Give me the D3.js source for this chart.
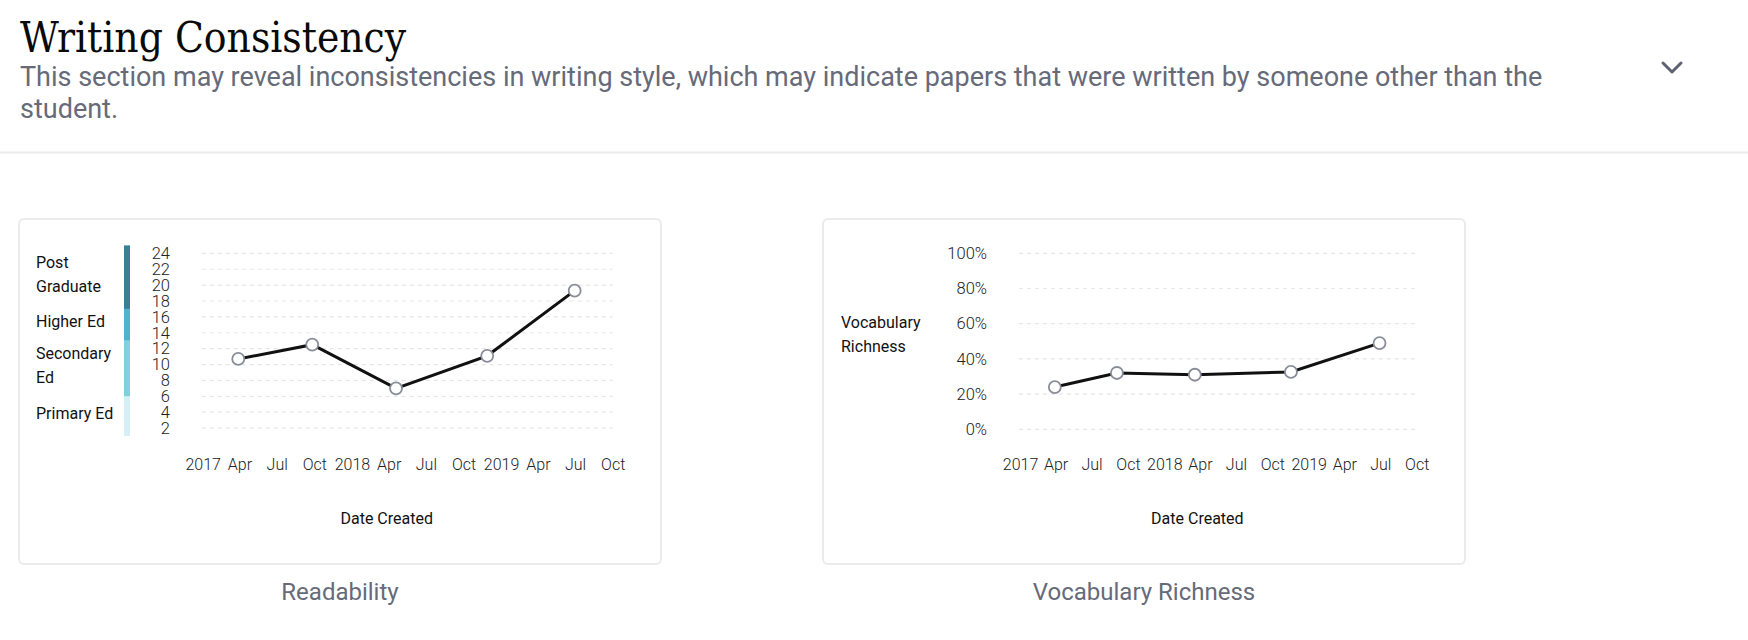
<!DOCTYPE html>
<html>
<head>
<meta charset="utf-8">
<script src="https://cdn.jsdelivr.net/npm/d3@7"></script>
<style>
  html, body { margin: 0; padding: 0; background: #fff; }
  svg { display: block; font-family: Roboto, "Noto Sans", sans-serif; }
</style>
</head>
<body>
<svg id="page" width="1748" height="640"></svg>
<script>
// values
var dateDomain = ["2017-01-01", "2019-10-01"];

var readabilityDates = ["2017-03-29", "2017-09-26", "2018-04-19", "2018-11-28", "2019-06-30"];
var readabilityScores = [10.7, 12.5, 7.0, 11.1, 19.3];
var readabilityTicks = [2, 4, 6, 8, 10, 12, 14, 16, 18, 20, 22, 24];

var vocabDates = ["2017-03-30", "2017-09-03", "2018-03-19", "2018-11-17", "2019-06-29"];
var vocabRichness = [0.24, 0.32, 0.31, 0.326, 0.49];
var vocabTicks = [0, 0.2, 0.4, 0.6, 0.8, 1];

var gradeBandNames = [["Primary Ed"], ["Secondary", "Ed"], ["Higher Ed"], ["Post", "Graduate"]];
var gradeBandEdges = [1, 6, 13, 17, 25];
var gradeBandColors = ["#d5f0f5", "#80d0de", "#4fb4ca", "#3a7f94"];

var parse = d3.timeParse("%Y-%m-%d");
var svg = d3.select("#page");

svg.append("rect").attr("width", 1748).attr("height", 640).attr("fill", "#fff");

// header
svg.append("text")
    .attr("x", 20).attr("y", 52)
    .attr("font-family", "'Roboto Slab', 'DejaVu Serif', serif")
    .attr("font-stretch", "condensed")
    .attr("font-size", 42)
    .attr("fill", "#0a0a0a")
    .text("Writing Consistency");

var sub = svg.append("text")
    .attr("font-size", 27)
    .attr("fill", "#666a79");
sub.append("tspan").attr("x", 20).attr("y", 86)
    .text("This section may reveal inconsistencies in writing style, which may indicate papers that were written by someone other than the");
sub.append("tspan").attr("x", 20).attr("y", 117.5).text("student.");

svg.append("path")
    .attr("d", "M1663,63 L1672,72 L1681,63")
    .attr("fill", "none")
    .attr("stroke", "#5f6270")
    .attr("stroke-width", 3)
    .attr("stroke-linecap", "round")
    .attr("stroke-linejoin", "round");

svg.append("rect").attr("x", 0).attr("y", 151.5).attr("width", 1748).attr("height", 2).attr("fill", "#ebebeb");

function monthFormat(d) {
    return d.getMonth() === 0 ? d3.timeFormat("%Y")(d) : d3.timeFormat("%b")(d);
}

function drawCard(cfg) {
    var g = svg.append("g");

    g.append("rect")
        .attr("x", cfg.cardX).attr("y", 219)
        .attr("width", 642).attr("height", 345)
        .attr("rx", 5)
        .attr("fill", "#fff")
        .attr("stroke", "#ebebeb")
        .attr("stroke-width", 2);

    var x = d3.scaleTime()
        .domain(dateDomain.map(parse))
        .range(cfg.xRange);
    var y = d3.scaleLinear()
        .domain(cfg.yDomain)
        .range(cfg.yRange);

    // dashed gridlines
    g.append("g").selectAll("line")
        .data(cfg.ticks)
        .enter()
        .append("line")
        .attr("x1", cfg.xRange[0] - 1)
        .attr("x2", cfg.xRange[1])
        .attr("y1", function(d) { return y(d); })
        .attr("y2", function(d) { return y(d); })
        .attr("stroke", "#e6e6e6")
        .attr("stroke-width", 1.2)
        .attr("stroke-dasharray", "4,4");

    var yAxis = g.append("g")
        .attr("transform", "translate(" + cfg.yLabelX + ",0)")
        .call(d3.axisLeft(y).tickValues(cfg.ticks).tickSize(0).tickPadding(0).tickFormat(cfg.tickFormat));
    yAxis.select(".domain").remove();
    yAxis.selectAll("text")
        .attr("font-family", "Roboto, sans-serif")
        .attr("font-weight", 300)
        .attr("font-size", 16.5)
        .attr("fill", "#222");

    var xAxis = g.append("g")
        .attr("transform", "translate(0,444)")
        .call(d3.axisBottom(x).ticks(d3.timeMonth.every(3)).tickSize(0).tickPadding(15).tickFormat(monthFormat));
    xAxis.select(".domain").remove();
    xAxis.selectAll("text")
        .attr("font-family", "Roboto, sans-serif")
        .attr("font-weight", 300)
        .attr("font-size", 16)
        .attr("fill", "#222");

    g.append("text")
        .attr("x", (cfg.xRange[0] + cfg.xRange[1]) / 2 - 21)
        .attr("y", 524)
        .attr("text-anchor", "middle")
        .attr("font-size", 16)
        .attr("fill", "#111")
        .text("Date Created");

    var pts = cfg.dates.map(function(d, i) { return { date: parse(d), value: cfg.values[i] }; });

    var line = d3.line()
        .x(function(d) { return x(d.date); })
        .y(function(d) { return y(d.value); });

    g.append("path")
        .datum(pts)
        .attr("d", line)
        .attr("fill", "none")
        .attr("stroke", "#111")
        .attr("stroke-width", 3);

    g.selectAll("circle")
        .data(pts)
        .enter()
        .append("circle")
        .attr("cx", function(d) { return x(d.date); })
        .attr("cy", function(d) { return y(d.value); })
        .attr("r", 6)
        .attr("fill", "#fff")
        .attr("stroke", "#8a8d99")
        .attr("stroke-width", 1.8);

    g.append("text")
        .attr("x", cfg.cardX + 321)
        .attr("y", 600)
        .attr("text-anchor", "middle")
        .attr("font-size", 24)
        .attr("fill", "#666a79")
        .text(cfg.caption);

    return { g: g, x: x, y: y };
}

// Readability
var c1 = drawCard({
    cardX: 19,
    xRange: [202.7, 612.7],
    yDomain: [1, 25],
    yRange: [436, 245.4],
    ticks: readabilityTicks,
    tickFormat: d3.format("d"),
    yLabelX: 170,
    dates: readabilityDates,
    values: readabilityScores,
    caption: "Readability"
});

// grade band legend bar
var bands = gradeBandColors.map(function(c, i) {
    return { lo: gradeBandEdges[i], hi: gradeBandEdges[i + 1], color: c, name: gradeBandNames[i] };
});

c1.g.selectAll("rect.band")
    .data(bands)
    .enter()
    .append("rect")
    .attr("class", "band")
    .attr("x", 124)
    .attr("width", 6)
    .attr("y", function(d) { return c1.y(d.hi); })
    .attr("height", function(d) { return c1.y(d.lo) - c1.y(d.hi); })
    .attr("fill", function(d) { return d.color; });

var bandLabels = c1.g.selectAll("text.band")
    .data(bands)
    .enter()
    .append("text")
    .attr("class", "band")
    .attr("font-size", 16)
    .attr("fill", "#111");

bandLabels.each(function(d) {
    var mid = (c1.y(d.lo) + c1.y(d.hi)) / 2 - 3;
    var n = d.name.length;
    var t = d3.select(this);
    d.name.forEach(function(s, i) {
        t.append("tspan")
            .attr("x", 36)
            .attr("y", mid + (i - (n - 1) / 2) * 24.5)
            .attr("dy", "0.35em")
            .text(s);
    });
});

// Vocabulary Richness
var c2 = drawCard({
    cardX: 823,
    xRange: [1020, 1416.7],
    yDomain: [0, 1],
    yRange: [429.3, 253.3],
    ticks: vocabTicks,
    tickFormat: d3.format(".0%"),
    yLabelX: 987,
    dates: vocabDates,
    values: vocabRichness,
    caption: "Vocabulary Richness"
});

c2.g.append("text")
    .attr("font-size", 16)
    .attr("fill", "#111")
    .selectAll("tspan")
    .data(["Vocabulary", "Richness"])
    .enter()
    .append("tspan")
    .attr("x", 841)
    .attr("y", function(d, i) { return 322 + i * 24.5; })
    .attr("dy", "0.35em")
    .text(function(d) { return d; });
</script>
</body>
</html>
